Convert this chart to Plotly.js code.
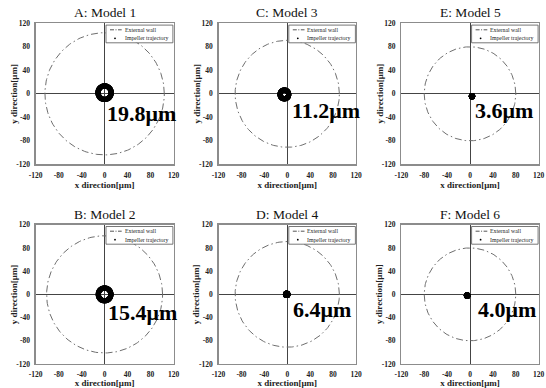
<!DOCTYPE html>
<html><head><meta charset="utf-8">
<script src="https://cdn.plot.ly/plotly-3.0.1.min.js"></script>
<style>html,body{margin:0;padding:0;background:#fff}#chart{width:546px;height:388px}</style>
</head><body><div id="chart"></div>
<script>
// ---------- data ----------
const panelTitles = ['A: Model 1', 'B: Model 2', 'C: Model 3', 'D: Model 4', 'E: Model 5', 'F: Model 6'];
const wallRadius = [104, 101, 91, 91, 80, 80];          // external wall radius [µm]
const trajRadius = [11.5, 11, 7.5, 2, 1, 1.2];          // impeller orbit radius [µm]
const trajCenterX = [0, 0, -5, -1, 3.5, -5];            // orbit centre x [µm]
const trajCenterY = [2, 0, -1, 0, -4, -2];              // orbit centre y [µm]
const amplitudeLabels = ['19.8μm', '15.4μm', '11.2μm', '6.4μm', '3.6μm', '4.0μm'];
const tickValues = [-120, -80, -40, 0, 40, 80, 120];
const legendNames = ['External wall', 'Impeller trajectory'];
const axisTitles = ['x direction[μm]', 'y direction[μm]'];

// ---------- layout geometry ----------
const W = 546, H = 388;
const SERIF = '"Liberation Serif", "Times New Roman", serif';
const colPx = [[35.7, 173.5], [218.5, 356], [401.3, 538.7]];
const rowPx = [[23.3, 164.3], [224.7, 364]];
const labelAnchor = [[1, -33.5], [2.3, -32], [4, -28.8], [7, -26], [6, -27.6], [10.4, -26]];
const px2x = p => p / W;
const px2y = p => 1 - p / H;

function circle(cx, cy, r, n) {
  const xs = [], ys = [];
  for (let k = 0; k <= n; k++) {
    const a = 2 * Math.PI * k / n;
    xs.push(cx + r * Math.cos(a));
    ys.push(cy + r * Math.sin(a));
  }
  return {xs, ys};
}

const traces = [];
const layout = {
  width: W, height: H,
  margin: {l: 0, r: 0, t: 0, b: 0},
  paper_bgcolor: '#fff', plot_bgcolor: '#fff',
  showlegend: false,
  font: {family: SERIF, color: '#222'},
  annotations: [], shapes: []
};

panelTitles.forEach((title, i) => {
  const col = Math.floor(i / 2), row = i % 2;
  const n = i + 1;
  const xa = 'x' + n, ya = 'y' + n;
  const [xl, xr] = colPx[col];
  const [yt, yb] = rowPx[row];

  const axBase = {
    range: [-120, 120], tickvals: tickValues, ticktext: tickValues.map(String),
    showgrid: false, zeroline: true, zerolinecolor: '#444', zerolinewidth: 1,
    showline: true, mirror: true, linecolor: '#8c8c8c', linewidth: 1.3,
    ticks: '', ticklabelstandoff: 3,
    tickfont: {family: SERIF, size: 7.5, color: '#222', weight: 'bold'},
    fixedrange: true
  };
  layout['xaxis' + n] = Object.assign({}, axBase, {
    domain: [px2x(xl), px2x(xr)], anchor: ya,
    title: {text: axisTitles[0], font: {family: SERIF, size: 9, color: '#222', weight: 'bold'}, standoff: 2}
  });
  layout['yaxis' + n] = Object.assign({}, axBase, {
    domain: [px2y(yb), px2y(yt)], anchor: xa
  });
  // y axis title (placed closer to the tick labels than Plotly allows)
  layout.annotations.push({
    xref: 'paper', yref: 'paper', x: px2x(xl - 21.7), y: px2y((yt + yb) / 2),
    xanchor: 'center', yanchor: 'middle', textangle: -90, showarrow: false,
    text: axisTitles[1], font: {family: SERIF, size: 9, color: '#222', weight: 'bold'}
  });

  const wall = circle(0, 0, wallRadius[i], 240);
  traces.push({
    x: wall.xs, y: wall.ys, xaxis: xa, yaxis: ya, type: 'scatter', mode: 'lines',
    name: legendNames[0], hoverinfo: 'skip',
    line: {color: '#6e6e6e', width: 1, dash: '7px,3px,1.5px,3px'}
  });
  const traj = circle(trajCenterX[i], trajCenterY[i], trajRadius[i], 90);
  traces.push({
    x: traj.xs, y: traj.ys, xaxis: xa, yaxis: ya, type: 'scatter', mode: 'markers',
    name: legendNames[1], hoverinfo: 'skip',
    marker: {color: '#000', size: 5.2}
  });

  // panel title
  layout.annotations.push({
    xref: 'paper', yref: 'paper', x: px2x((xl + xr) / 2), y: px2y(yt - 10.5),
    xanchor: 'center', yanchor: 'middle', showarrow: false, text: title,
    font: {family: SERIF, size: 13.5, color: '#111'}
  });
  // amplitude label
  layout.annotations.push({
    xref: xa, yref: ya, x: labelAnchor[i][0], y: labelAnchor[i][1],
    xanchor: 'left', yanchor: 'middle', showarrow: false, text: amplitudeLabels[i],
    font: {family: SERIF, size: 22, color: '#000', weight: 'bold'}
  });

  // legend box
  const lx0 = xl + 70.3, lx1 = xr - 0.6, ly0 = yt + 1.8, ly1 = yt + 19.5;
  layout.shapes.push({
    type: 'rect', xref: 'paper', yref: 'paper',
    x0: px2x(lx0), x1: px2x(lx1), y0: px2y(ly1), y1: px2y(ly0),
    line: {color: '#555', width: 0.8}, fillcolor: '#fff', layer: 'above'
  });
  layout.shapes.push({
    type: 'line', xref: 'paper', yref: 'paper',
    x0: px2x(xl + 74.3), x1: px2x(xl + 86), y0: px2y(yt + 6.5), y1: px2y(yt + 6.5),
    line: {color: '#555', width: 1, dash: '4px,1.5px,1px,1.5px'}, layer: 'above'
  });
  layout.shapes.push({
    type: 'circle', xref: 'paper', yref: 'paper',
    x0: px2x(xl + 79.3 - 0.9), x1: px2x(xl + 79.3 + 0.9),
    y0: px2y(yt + 15 + 0.9), y1: px2y(yt + 15 - 0.9),
    line: {color: '#000', width: 0}, fillcolor: '#000', layer: 'above'
  });
  legendNames.forEach((nm, k) => {
    layout.annotations.push({
      xref: 'paper', yref: 'paper', x: px2x(xl + 86.8), y: px2y(yt + 6.5 + k * 8.5),
      xanchor: 'left', yanchor: 'middle', showarrow: false, text: nm,
      font: {family: SERIF, size: 5.8, color: '#222'}
    });
  });
});

Plotly.newPlot('chart', traces, layout, {staticPlot: true, displayModeBar: false});
</script>
</body></html>
